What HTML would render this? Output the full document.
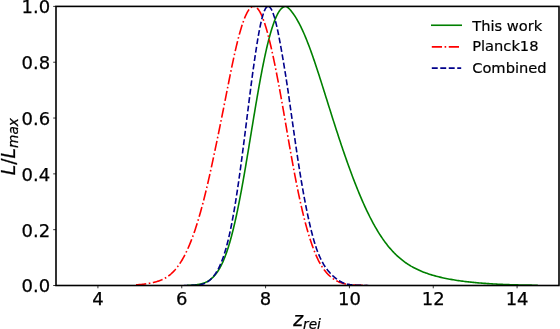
<!DOCTYPE html>
<html><head><meta charset="utf-8"><title>plot</title>
<style>html,body{margin:0;padding:0;background:#fff;overflow:hidden}</style></head>
<body>
<svg width="560" height="329" viewBox="0 0 560 329" style="display:block;font-family:'DejaVu Sans','Liberation Sans',sans-serif">
<rect x="0" y="0" width="560" height="329" fill="#fff"/>
<clipPath id="c"><rect x="56.0" y="6.4" width="503.0" height="279.1"/></clipPath>
<g clip-path="url(#c)" fill="none" stroke-linejoin="round">
<path d="M188.01,285.36 L188.25,285.35 L188.49,285.35 L188.73,285.34 L188.97,285.33 L189.21,285.32 L189.45,285.31 L189.69,285.30 L189.93,285.29 L190.17,285.28 L190.41,285.27 L190.65,285.26 L190.89,285.25 L191.13,285.23 L191.37,285.22 L191.61,285.21 L191.85,285.19 L192.09,285.18 L192.33,285.16 L192.57,285.15 L192.81,285.13 L193.05,285.11 L193.29,285.09 L193.53,285.07 L193.77,285.05 L194.01,285.03 L194.25,285.01 L194.49,284.98 L194.73,284.96 L194.97,284.93 L195.22,284.91 L195.46,284.88 L195.71,284.85 L195.95,284.82 L196.20,284.79 L196.45,284.76 L196.70,284.72 L196.95,284.69 L197.20,284.65 L197.45,284.61 L197.71,284.57 L197.96,284.53 L198.22,284.49 L198.47,284.44 L198.73,284.39 L198.99,284.35 L199.24,284.29 L199.50,284.24 L199.77,284.19 L200.03,284.13 L200.29,284.07 L200.55,284.01 L200.82,283.94 L201.08,283.88 L201.35,283.81 L201.61,283.74 L201.88,283.66 L202.15,283.58 L202.42,283.50 L202.68,283.42 L202.95,283.33 L203.23,283.25 L203.50,283.15 L203.77,283.06 L204.04,282.96 L204.32,282.85 L204.59,282.75 L204.86,282.63 L205.14,282.52 L205.42,282.40 L205.69,282.28 L205.97,282.15 L206.25,282.02 L206.53,281.88 L206.81,281.74 L207.09,281.59 L207.37,281.44 L207.65,281.28 L207.93,281.12 L208.21,280.95 L208.50,280.78 L208.78,280.60 L209.06,280.42 L209.35,280.23 L209.63,280.03 L209.92,279.83 L210.21,279.62 L210.49,279.40 L210.78,279.18 L211.07,278.95 L211.36,278.71 L211.65,278.46 L211.94,278.21 L212.23,277.95 L212.52,277.68 L212.81,277.40 L213.10,277.12 L213.39,276.82 L213.68,276.52 L213.98,276.21 L214.27,275.89 L214.56,275.56 L214.86,275.22 L215.15,274.87 L215.45,274.51 L215.74,274.14 L216.04,273.76 L216.34,273.37 L216.63,272.97 L216.93,272.56 L217.23,272.13 L217.53,271.70 L217.83,271.25 L218.13,270.79 L218.43,270.32 L218.73,269.83 L219.03,269.34 L219.33,268.83 L219.63,268.30 L219.93,267.77 L220.23,267.22 L220.54,266.65 L220.84,266.08 L221.14,265.48 L221.45,264.88 L221.75,264.26 L222.06,263.62 L222.36,262.97 L222.67,262.30 L222.98,261.62 L223.28,260.92 L223.59,260.20 L223.90,259.47 L224.20,258.72 L224.51,257.96 L224.82,257.18 L225.13,256.38 L225.44,255.56 L225.75,254.73 L226.06,253.88 L226.37,253.01 L226.68,252.12 L227.00,251.21 L227.31,250.29 L227.62,249.34 L227.93,248.38 L228.25,247.40 L228.56,246.40 L228.88,245.38 L229.19,244.34 L229.51,243.27 L229.82,242.19 L230.14,241.09 L230.46,239.97 L230.77,238.83 L231.09,237.67 L231.41,236.49 L231.73,235.29 L232.05,234.06 L232.37,232.82 L232.69,231.55 L233.01,230.27 L233.33,228.96 L233.65,227.63 L233.97,226.28 L234.30,224.91 L234.62,223.52 L234.94,222.11 L235.27,220.67 L235.59,219.22 L235.92,217.74 L236.25,216.24 L236.57,214.72 L236.90,213.18 L237.23,211.62 L237.56,210.04 L237.89,208.44 L238.21,206.82 L238.54,205.17 L238.88,203.51 L239.21,201.82 L239.54,200.12 L239.87,198.40 L240.21,196.65 L240.54,194.89 L240.87,193.11 L241.21,191.31 L241.55,189.49 L241.88,187.65 L242.22,185.79 L242.56,183.91 L242.90,182.02 L243.24,180.11 L243.58,178.19 L243.92,176.24 L244.26,174.28 L244.60,172.31 L244.94,170.31 L245.29,168.31 L245.63,166.29 L245.98,164.25 L246.32,162.20 L246.67,160.14 L247.02,158.07 L247.37,155.98 L247.72,153.88 L248.07,151.77 L248.42,149.65 L248.77,147.52 L249.12,145.38 L249.48,143.23 L249.83,141.07 L250.19,138.90 L250.55,136.73 L250.90,134.55 L251.26,132.36 L251.62,130.17 L251.98,127.97 L252.34,125.78 L252.71,123.57 L253.07,121.37 L253.44,119.16 L253.80,116.95 L254.17,114.75 L254.54,112.54 L254.90,110.33 L255.27,108.13 L255.65,105.93 L256.02,103.73 L256.39,101.53 L256.77,99.35 L257.14,97.16 L257.52,94.99 L257.90,92.82 L258.27,90.66 L258.66,88.51 L259.04,86.37 L259.42,84.24 L259.80,82.13 L260.19,80.02 L260.58,77.93 L260.96,75.86 L261.35,73.80 L261.74,71.75 L262.14,69.72 L262.53,67.71 L262.93,65.72 L263.32,63.75 L263.72,61.80 L264.12,59.87 L264.52,57.96 L264.92,56.07 L265.32,54.21 L265.73,52.38 L266.13,50.56 L266.54,48.78 L266.95,47.02 L267.36,45.29 L267.77,43.59 L268.19,41.92 L268.60,40.27 L269.02,38.66 L269.43,37.08 L269.85,35.53 L270.27,34.02 L270.70,32.54 L271.12,31.09 L271.54,29.68 L271.97,28.31 L272.40,26.97 L272.82,25.67 L273.25,24.41 L273.68,23.18 L274.12,22.00 L274.55,20.85 L274.99,19.75 L275.42,18.68 L275.86,17.66 L276.30,16.68 L276.74,15.74 L277.18,14.84 L277.62,13.99 L278.07,13.18 L278.51,12.41 L278.96,11.69 L279.40,11.01 L279.85,10.38 L280.30,9.80 L280.75,9.26 L281.20,8.76 L281.65,8.32 L282.11,7.92 L282.56,7.56 L283.01,7.25 L283.47,6.99 L283.93,6.78 L284.38,6.61 L284.84,6.49 L285.30,6.42 L285.76,6.40 L285.97,6.42 L286.21,6.49 L286.49,6.61 L286.80,6.78 L287.14,6.99 L287.51,7.25 L287.90,7.56 L288.31,7.92 L288.74,8.32 L289.20,8.76 L289.68,9.26 L290.17,9.80 L290.68,10.38 L291.21,11.01 L291.75,11.69 L292.30,12.41 L292.87,13.18 L293.45,13.99 L294.03,14.84 L294.63,15.74 L295.23,16.68 L295.85,17.66 L296.47,18.68 L297.09,19.75 L297.72,20.85 L298.35,22.00 L298.99,23.18 L299.63,24.41 L300.28,25.67 L300.92,26.97 L301.57,28.31 L302.22,29.68 L302.87,31.09 L303.52,32.54 L304.17,34.02 L304.83,35.53 L305.48,37.08 L306.13,38.66 L306.78,40.27 L307.43,41.92 L308.08,43.59 L308.74,45.29 L309.39,47.02 L310.04,48.78 L310.69,50.56 L311.34,52.38 L312.00,54.21 L312.65,56.07 L313.30,57.96 L313.96,59.87 L314.62,61.80 L315.27,63.75 L315.93,65.72 L316.59,67.71 L317.25,69.72 L317.91,71.75 L318.58,73.80 L319.24,75.86 L319.91,77.93 L320.58,80.02 L321.25,82.13 L321.92,84.24 L322.59,86.37 L323.27,88.51 L323.94,90.66 L324.62,92.82 L325.30,94.99 L325.98,97.16 L326.67,99.35 L327.35,101.53 L328.04,103.73 L328.73,105.93 L329.43,108.13 L330.12,110.33 L330.82,112.54 L331.51,114.75 L332.21,116.95 L332.91,119.16 L333.62,121.37 L334.32,123.57 L335.03,125.78 L335.74,127.97 L336.45,130.17 L337.16,132.36 L337.88,134.55 L338.59,136.73 L339.31,138.90 L340.03,141.07 L340.75,143.23 L341.47,145.38 L342.19,147.52 L342.91,149.65 L343.64,151.77 L344.36,153.88 L345.09,155.98 L345.82,158.07 L346.55,160.14 L347.28,162.20 L348.01,164.25 L348.74,166.29 L349.47,168.31 L350.20,170.31 L350.94,172.31 L351.67,174.28 L352.40,176.24 L353.14,178.19 L353.88,180.11 L354.61,182.02 L355.35,183.91 L356.09,185.79 L356.83,187.65 L357.57,189.49 L358.31,191.31 L359.05,193.11 L359.79,194.89 L360.54,196.65 L361.28,198.40 L362.02,200.12 L362.77,201.82 L363.52,203.51 L364.26,205.17 L365.01,206.82 L365.76,208.44 L366.51,210.04 L367.27,211.62 L368.02,213.18 L368.77,214.72 L369.53,216.24 L370.29,217.74 L371.05,219.22 L371.81,220.67 L372.57,222.11 L373.34,223.52 L374.11,224.91 L374.88,226.28 L375.65,227.63 L376.42,228.96 L377.20,230.27 L377.98,231.55 L378.76,232.82 L379.54,234.06 L380.33,235.29 L381.12,236.49 L381.91,237.67 L382.71,238.83 L383.51,239.97 L384.31,241.09 L385.12,242.19 L385.93,243.27 L386.75,244.34 L387.57,245.38 L388.39,246.40 L389.22,247.40 L390.05,248.38 L390.89,249.34 L391.73,250.29 L392.58,251.21 L393.44,252.12 L394.29,253.01 L395.16,253.88 L396.03,254.73 L396.91,255.56 L397.79,256.38 L398.68,257.18 L399.58,257.96 L400.49,258.72 L401.40,259.47 L402.32,260.20 L403.25,260.92 L404.18,261.62 L405.12,262.30 L406.08,262.97 L407.04,263.62 L408.00,264.26 L408.98,264.88 L409.97,265.48 L410.96,266.08 L411.97,266.65 L412.98,267.22 L414.00,267.77 L415.03,268.30 L416.07,268.83 L417.12,269.34 L418.17,269.83 L419.24,270.32 L420.32,270.79 L421.40,271.25 L422.49,271.70 L423.60,272.13 L424.71,272.56 L425.82,272.97 L426.95,273.37 L428.09,273.76 L429.23,274.14 L430.38,274.51 L431.54,274.87 L432.71,275.22 L433.88,275.56 L435.06,275.89 L436.25,276.21 L437.44,276.52 L438.64,276.82 L439.85,277.12 L441.06,277.40 L442.28,277.68 L443.50,277.95 L444.73,278.21 L445.96,278.46 L447.19,278.71 L448.43,278.95 L449.67,279.18 L450.91,279.40 L452.16,279.62 L453.41,279.83 L454.66,280.03 L455.91,280.23 L457.16,280.42 L458.41,280.60 L459.66,280.78 L460.91,280.95 L462.15,281.12 L463.40,281.28 L464.64,281.44 L465.88,281.59 L467.12,281.74 L468.36,281.88 L469.59,282.02 L470.82,282.15 L472.05,282.28 L473.27,282.40 L474.49,282.52 L475.70,282.63 L476.91,282.75 L478.11,282.85 L479.31,282.96 L480.51,283.06 L481.70,283.15 L482.88,283.25 L484.07,283.33 L485.24,283.42 L486.41,283.50 L487.58,283.58 L488.74,283.66 L489.90,283.74 L491.05,283.81 L492.19,283.88 L493.34,283.94 L494.48,284.01 L495.61,284.07 L496.74,284.13 L497.87,284.19 L498.99,284.24 L500.11,284.29 L501.22,284.35 L502.34,284.39 L503.45,284.44 L504.56,284.49 L505.66,284.53 L506.77,284.57 L507.87,284.61 L508.97,284.65 L510.08,284.69 L511.18,284.72 L512.28,284.76 L513.38,284.79 L514.49,284.82 L515.60,284.85 L516.71,284.88 L517.82,284.91 L518.93,284.93 L520.05,284.96 L521.18,284.98 L522.31,285.01 L523.44,285.03 L524.57,285.05 L525.70,285.07 L526.83,285.09 L527.96,285.11 L529.09,285.13 L530.22,285.15 L531.35,285.16 L532.48,285.18 L533.61,285.19 L534.74,285.21 L535.87,285.22 L537.00,285.23" stroke="#008000" stroke-width="1.6" stroke-linecap="square"/>
<path d="M133.55,284.98 L134.13,284.95 L134.72,284.92 L135.31,284.89 L135.90,284.85 L136.49,284.81 L137.08,284.77 L137.66,284.73 L138.25,284.69 L138.84,284.64 L139.43,284.59 L140.02,284.54 L140.61,284.49 L141.19,284.43 L141.78,284.38 L142.37,284.31 L142.96,284.25 L143.55,284.18 L144.14,284.11 L144.72,284.04 L145.31,283.96 L145.90,283.88 L146.49,283.79 L147.08,283.70 L147.67,283.61 L148.25,283.51 L148.84,283.41 L149.43,283.30 L150.02,283.19 L150.61,283.07 L151.19,282.95 L151.78,282.83 L152.37,282.70 L152.96,282.57 L153.55,282.44 L154.14,282.29 L154.72,282.15 L155.31,281.99 L155.90,281.84 L156.49,281.67 L157.08,281.50 L157.67,281.32 L158.25,281.13 L158.84,280.94 L159.43,280.73 L160.02,280.52 L160.61,280.30 L161.20,280.06 L161.78,279.82 L162.37,279.56 L162.96,279.29 L163.55,279.00 L164.14,278.71 L164.73,278.39 L165.31,278.06 L165.90,277.71 L166.49,277.35 L167.08,276.96 L167.67,276.56 L168.26,276.13 L168.84,275.69 L169.43,275.24 L170.02,274.76 L170.61,274.27 L171.20,273.75 L171.79,273.22 L172.37,272.66 L172.96,272.08 L173.55,271.48 L174.14,270.86 L174.73,270.22 L175.32,269.55 L175.90,268.86 L176.49,268.14 L177.08,267.40 L177.67,266.63 L178.26,265.83 L178.85,265.01 L179.43,264.16 L180.02,263.28 L180.61,262.38 L181.20,261.44 L181.79,260.48 L182.38,259.48 L182.96,258.45 L183.55,257.40 L184.14,256.31 L184.73,255.18 L185.32,254.03 L185.90,252.84 L186.49,251.62 L187.08,250.37 L187.67,249.08 L188.26,247.75 L188.85,246.40 L189.43,245.00 L190.02,243.58 L190.61,242.12 L191.20,240.62 L191.79,239.09 L192.38,237.52 L192.96,235.92 L193.55,234.28 L194.14,232.61 L194.73,230.90 L195.32,229.15 L195.91,227.36 L196.49,225.53 L197.08,223.67 L197.67,221.77 L198.26,219.83 L198.85,217.85 L199.44,215.83 L200.02,213.77 L200.61,211.68 L201.20,209.55 L201.79,207.39 L202.38,205.18 L202.97,202.94 L203.55,200.67 L204.14,198.36 L204.73,196.01 L205.32,193.63 L205.91,191.22 L206.50,188.77 L207.08,186.29 L207.67,183.78 L208.26,181.24 L208.85,178.66 L209.44,176.06 L210.03,173.43 L210.61,170.77 L211.20,168.08 L211.79,165.36 L212.38,162.62 L212.97,159.86 L213.56,157.07 L214.14,154.28 L214.73,151.48 L215.32,148.68 L215.91,145.86 L216.50,143.04 L217.09,140.20 L217.67,137.36 L218.26,134.50 L218.85,131.63 L219.44,128.75 L220.03,125.86 L220.61,122.96 L221.20,120.05 L221.79,117.12 L222.38,114.19 L222.97,111.24 L223.56,108.29 L224.14,105.32 L224.73,102.35 L225.32,99.38 L225.91,96.40 L226.50,93.41 L227.09,90.43 L227.67,87.45 L228.26,84.47 L228.85,81.49 L229.44,78.53 L230.03,75.58 L230.62,72.67 L231.20,69.78 L231.79,66.93 L232.38,64.11 L232.97,61.34 L233.56,58.60 L234.15,55.91 L234.73,53.27 L235.32,50.67 L235.91,48.13 L236.50,45.64 L237.09,43.20 L237.68,40.83 L238.26,38.52 L238.85,36.27 L239.44,34.08 L240.03,31.97 L240.62,29.92 L241.21,27.95 L241.79,26.06 L242.38,24.24 L242.97,22.50 L243.56,20.84 L244.15,19.26 L244.74,17.77 L245.32,16.36 L245.91,15.04 L246.50,13.81 L247.09,12.67 L247.68,11.62 L248.27,10.67 L248.85,9.81 L249.44,9.04 L250.03,8.37 L250.62,7.80 L251.21,7.32 L251.79,6.95 L252.38,6.67 L252.97,6.49 L253.56,6.41 L253.56,-0.69 L253.56,6.41 L254.15,6.42 L254.74,6.54 L255.32,6.76 L255.91,7.09 L256.50,7.51 L257.09,8.04 L257.68,8.66 L258.27,9.38 L258.85,10.20 L259.44,11.12 L260.03,12.14 L260.62,13.25 L261.21,14.46 L261.80,15.76 L262.38,17.15 L262.97,18.63 L263.56,20.20 L264.15,21.86 L264.74,23.60 L265.33,25.42 L265.91,27.33 L266.50,29.31 L267.09,31.38 L267.68,33.52 L268.27,35.73 L268.86,38.01 L269.44,40.36 L270.03,42.78 L270.62,45.26 L271.21,47.80 L271.80,50.40 L272.39,53.06 L272.97,55.77 L273.56,58.53 L274.15,61.34 L274.74,64.20 L275.33,67.10 L275.92,70.04 L276.50,73.02 L277.09,76.03 L277.68,79.08 L278.27,82.16 L278.86,85.26 L279.45,88.41 L280.03,91.60 L280.62,94.83 L281.21,98.09 L281.80,101.38 L282.39,104.70 L282.98,108.05 L283.56,111.42 L284.15,114.80 L284.74,118.21 L285.33,121.62 L285.92,125.05 L286.50,128.47 L287.09,131.90 L287.68,135.32 L288.27,138.73 L288.86,142.12 L289.45,145.50 L290.03,148.86 L290.62,152.19 L291.21,155.49 L291.80,158.75 L292.39,161.98 L292.98,165.16 L293.56,168.32 L294.15,171.45 L294.74,174.54 L295.33,177.60 L295.92,180.62 L296.51,183.60 L297.09,186.54 L297.68,189.43 L298.27,192.29 L298.86,195.09 L299.45,197.86 L300.04,200.57 L300.62,203.24 L301.21,205.86 L301.80,208.43 L302.39,210.95 L302.98,213.42 L303.57,215.84 L304.15,218.20 L304.74,220.51 L305.33,222.77 L305.92,224.97 L306.51,227.12 L307.10,229.21 L307.68,231.26 L308.27,233.25 L308.86,235.19 L309.45,237.09 L310.04,238.94 L310.63,240.74 L311.21,242.49 L311.80,244.20 L312.39,245.87 L312.98,247.50 L313.57,249.09 L314.16,250.64 L314.74,252.15 L315.33,253.62 L315.92,255.03 L316.51,256.39 L317.10,257.70 L317.69,258.96 L318.27,260.16 L318.86,261.31 L319.45,262.42 L320.04,263.48 L320.63,264.51 L321.21,265.49 L321.80,266.43 L322.39,267.34 L322.98,268.21 L323.57,269.05 L324.16,269.85 L324.74,270.62 L325.33,271.35 L325.92,272.06 L326.51,272.74 L327.10,273.39 L327.69,274.02 L328.27,274.61 L328.86,275.19 L329.45,275.73 L330.04,276.26 L330.63,276.76 L331.22,277.24 L331.80,277.70 L332.39,278.14 L332.98,278.57 L333.57,278.97 L334.16,279.36 L334.75,279.73 L335.33,280.08 L335.92,280.42 L336.51,280.75 L337.10,281.06 L337.69,281.36 L338.28,281.64 L338.86,281.90 L339.45,282.15 L340.04,282.39 L340.63,282.61 L341.22,282.82 L341.81,283.02 L342.39,283.21 L342.98,283.38 L343.57,283.54 L344.16,283.69 L344.75,283.83 L345.34,283.97 L345.92,284.09 L346.51,284.20 L347.10,284.30 L347.69,284.40 L348.28,284.49 L348.87,284.57 L349.45,284.65 L350.04,284.72 L350.63,284.78 L351.22,284.84 L351.81,284.89 L352.39,284.94 L352.98,284.99 L353.57,285.03 L354.16,285.07 L354.75,285.11 L355.34,285.14 L355.92,285.18 L356.51,285.20 L357.10,285.23 L357.69,285.25 L358.28,285.28 L358.87,285.30 L359.45,285.32 L360.04,285.33 L360.63,285.35 L361.22,285.36 L361.81,285.38 L362.40,285.39 L362.98,285.40 L363.57,285.41 L364.16,285.42 L364.75,285.42 L365.34,285.43 L365.93,285.44 L366.51,285.44 L367.10,285.45 L367.69,285.46 L368.28,285.46" stroke="#ff0000" stroke-width="1.6" stroke-dashoffset="-2.5" stroke-dasharray="10.24 2.56 1.60 2.56"/>
<path d="M183.85,285.48 L184.31,285.48 L184.77,285.48 L185.23,285.48 L185.69,285.47 L186.16,285.47 L186.62,285.46 L187.08,285.46 L187.54,285.46 L188.01,285.45 L188.47,285.44 L188.93,285.44 L189.39,285.43 L189.85,285.42 L190.32,285.41 L190.78,285.40 L191.24,285.39 L191.70,285.38 L192.17,285.36 L192.63,285.34 L193.09,285.33 L193.55,285.31 L194.02,285.29 L194.48,285.26 L194.94,285.24 L195.40,285.21 L195.86,285.18 L196.33,285.14 L196.79,285.10 L197.25,285.06 L197.71,285.01 L198.18,284.96 L198.64,284.90 L199.10,284.84 L199.56,284.77 L200.02,284.69 L200.49,284.61 L200.95,284.52 L201.41,284.41 L201.87,284.30 L202.34,284.18 L202.80,284.05 L203.26,283.90 L203.72,283.74 L204.18,283.57 L204.65,283.39 L205.11,283.19 L205.57,282.97 L206.03,282.74 L206.50,282.49 L206.96,282.22 L207.42,281.94 L207.88,281.63 L208.34,281.31 L208.81,280.96 L209.27,280.60 L209.73,280.21 L210.19,279.80 L210.66,279.37 L211.12,278.92 L211.58,278.44 L212.04,277.95 L212.50,277.43 L212.97,276.89 L213.43,276.32 L213.89,275.74 L214.35,275.13 L214.82,274.50 L215.28,273.85 L215.74,273.18 L216.20,272.49 L216.66,271.76 L217.13,271.00 L217.59,270.21 L218.05,269.38 L218.51,268.51 L218.98,267.60 L219.44,266.66 L219.90,265.67 L220.36,264.65 L220.82,263.58 L221.29,262.46 L221.75,261.31 L222.21,260.10 L222.67,258.85 L223.14,257.56 L223.60,256.21 L224.06,254.81 L224.52,253.36 L224.99,251.86 L225.45,250.31 L225.91,248.71 L226.37,247.04 L226.83,245.33 L227.30,243.55 L227.76,241.72 L228.22,239.84 L228.68,237.89 L229.15,235.89 L229.61,233.82 L230.07,231.70 L230.53,229.52 L230.99,227.28 L231.46,224.97 L231.92,222.61 L232.38,220.18 L232.84,217.70 L233.31,215.15 L233.77,212.54 L234.23,209.88 L234.69,207.15 L235.15,204.37 L235.62,201.53 L236.08,198.63 L236.54,195.68 L237.00,192.66 L237.47,189.60 L237.93,186.48 L238.39,183.31 L238.85,180.09 L239.31,176.82 L239.78,173.51 L240.24,170.15 L240.70,166.75 L241.16,163.30 L241.63,159.82 L242.09,156.30 L242.55,152.75 L243.01,149.18 L243.47,145.58 L243.94,141.96 L244.40,138.32 L244.86,134.66 L245.32,130.99 L245.79,127.31 L246.25,123.62 L246.71,119.92 L247.17,116.22 L247.63,112.52 L248.10,108.82 L248.56,105.14 L249.02,101.46 L249.48,97.80 L249.95,94.15 L250.41,90.53 L250.87,86.93 L251.33,83.36 L251.79,79.83 L252.26,76.37 L252.72,72.96 L253.18,69.60 L253.64,66.30 L254.11,63.05 L254.57,59.84 L255.03,56.69 L255.49,53.59 L255.96,50.54 L256.42,47.56 L256.88,44.63 L257.34,41.77 L257.80,38.98 L258.27,36.28 L258.73,33.67 L259.19,31.17 L259.65,28.77 L260.12,26.47 L260.58,24.29 L261.04,22.22 L261.50,20.26 L261.96,18.43 L262.43,16.72 L262.89,15.13 L263.35,13.66 L263.81,12.33 L264.28,11.13 L264.74,10.06 L265.20,9.13 L265.66,8.33 L266.12,7.67 L266.59,7.14 L267.05,6.76 L267.51,6.51 L267.97,6.41 L267.97,5.41 L267.97,6.41 L268.44,6.43 L268.90,6.58 L269.36,6.85 L269.82,7.24 L270.28,7.74 L270.75,8.37 L271.21,9.11 L271.67,9.96 L272.13,10.93 L272.60,12.01 L273.06,13.20 L273.52,14.49 L273.98,15.89 L274.44,17.39 L274.91,18.99 L275.37,20.68 L275.83,22.47 L276.29,24.35 L276.76,26.32 L277.22,28.37 L277.68,30.50 L278.14,32.71 L278.60,35.00 L279.07,37.36 L279.53,39.79 L279.99,42.27 L280.45,44.79 L280.92,47.35 L281.38,49.95 L281.84,52.57 L282.30,55.23 L282.76,57.92 L283.23,60.63 L283.69,63.37 L284.15,66.15 L284.61,68.95 L285.08,71.78 L285.54,74.65 L286.00,77.56 L286.46,80.51 L286.93,83.51 L287.39,86.56 L287.85,89.67 L288.31,92.84 L288.77,96.04 L289.24,99.27 L289.70,102.51 L290.16,105.77 L290.62,109.04 L291.09,112.32 L291.55,115.60 L292.01,118.88 L292.47,122.16 L292.93,125.44 L293.40,128.71 L293.86,131.97 L294.32,135.21 L294.78,138.44 L295.25,141.65 L295.71,144.83 L296.17,147.99 L296.63,151.11 L297.09,154.21 L297.56,157.27 L298.02,160.30 L298.48,163.30 L298.94,166.26 L299.41,169.19 L299.87,172.08 L300.33,174.93 L300.79,177.74 L301.25,180.51 L301.72,183.24 L302.18,185.94 L302.64,188.59 L303.10,191.20 L303.57,193.77 L304.03,196.30 L304.49,198.79 L304.95,201.24 L305.41,203.65 L305.88,206.01 L306.34,208.34 L306.80,210.62 L307.26,212.86 L307.73,215.06 L308.19,217.22 L308.65,219.34 L309.11,221.42 L309.57,223.46 L310.04,225.46 L310.50,227.42 L310.96,229.33 L311.42,231.20 L311.89,233.03 L312.35,234.80 L312.81,236.54 L313.27,238.22 L313.73,239.86 L314.20,241.45 L314.66,243.00 L315.12,244.49 L315.58,245.94 L316.05,247.33 L316.51,248.66 L316.97,249.95 L317.43,251.18 L317.90,252.37 L318.36,253.52 L318.82,254.62 L319.28,255.70 L319.74,256.74 L320.21,257.75 L320.67,258.74 L321.13,259.70 L321.59,260.63 L322.06,261.53 L322.52,262.40 L322.98,263.23 L323.44,264.04 L323.90,264.81 L324.37,265.56 L324.83,266.28 L325.29,266.97 L325.75,267.64 L326.22,268.29 L326.68,268.92 L327.14,269.53 L327.60,270.12 L328.06,270.69 L328.53,271.25 L328.99,271.79 L329.45,272.32 L329.91,272.83 L330.38,273.32 L330.84,273.81 L331.30,274.28 L331.76,274.74 L332.22,275.19 L332.69,275.63 L333.15,276.06 L333.61,276.47 L334.07,276.88 L334.54,277.28 L335.00,277.67 L335.46,278.05 L335.92,278.42 L336.38,278.78 L336.85,279.14 L337.31,279.48 L337.77,279.81 L338.23,280.13 L338.70,280.45 L339.16,280.74 L339.62,281.03 L340.08,281.31 L340.54,281.57 L341.01,281.82 L341.47,282.06 L341.93,282.29 L342.39,282.51 L342.86,282.71 L343.32,282.90 L343.78,283.08 L344.24,283.26 L344.70,283.42 L345.17,283.57 L345.63,283.71 L346.09,283.84 L346.55,283.96 L347.02,284.08 L347.48,284.18 L347.94,284.28 L348.40,284.37 L348.87,284.46 L349.33,284.53 L349.79,284.61 L350.25,284.67 L350.71,284.73 L351.18,284.79 L351.64,284.84 L352.10,284.89 L352.56,284.94 L353.03,284.98 L353.49,285.03 L353.95,285.06 L354.41,285.10 L354.87,285.13 L355.34,285.16 L355.80,285.19 L356.26,285.21 L356.72,285.24 L357.19,285.26 L357.65,285.28 L358.11,285.30 L358.57,285.31 L359.03,285.33 L359.50,285.34 L359.96,285.36 L360.42,285.37 L360.88,285.38 L361.35,285.39 L361.81,285.40 L362.27,285.41 L362.73,285.42 L363.19,285.43 L363.66,285.43 L364.12,285.44 L364.58,285.44 L365.04,285.45 L365.51,285.45 L365.97,285.46 L366.43,285.46 L366.89,285.47 L367.35,285.47 L367.82,285.47 L368.28,285.47" stroke="#00008b" stroke-width="1.6" stroke-dashoffset="1.5" stroke-dasharray="5.92 2.56"/>
</g>
<path d="M97.92,285.5 v2.8 M181.75,285.5 v2.8 M265.58,285.5 v2.8 M349.42,285.5 v2.8 M433.25,285.5 v2.8 M517.08,285.5 v2.8 M56.0,285.50 h-2.8 M56.0,229.68 h-2.8 M56.0,173.86 h-2.8 M56.0,118.04 h-2.8 M56.0,62.22 h-2.8 M56.0,6.40 h-2.8" stroke="#000" stroke-width="0.8" fill="none"/>
<rect x="56.0" y="6.4" width="503.0" height="279.1" fill="none" stroke="#000" stroke-width="1.6"/>
<g font-size="18px" fill="#000" stroke="#000" stroke-width="0.25">
<text x="97.92" y="305" text-anchor="middle">4</text>
<text x="181.75" y="305" text-anchor="middle">6</text>
<text x="265.58" y="305" text-anchor="middle">8</text>
<text x="349.42" y="305" text-anchor="middle">10</text>
<text x="433.25" y="305" text-anchor="middle">12</text>
<text x="517.08" y="305" text-anchor="middle">14</text>
<text x="50.1" y="292.05" text-anchor="end">0.0</text>
<text x="50.1" y="236.93" text-anchor="end">0.2</text>
<text x="50.1" y="181.11" text-anchor="end">0.4</text>
<text x="50.1" y="125.29" text-anchor="end">0.6</text>
<text x="50.1" y="69.47" text-anchor="end">0.8</text>
<text x="50.1" y="13.25" text-anchor="end">1.0</text>
</g>
<text transform="translate(293.2,325.5)" fill="#000" stroke="#000" stroke-width="0.25"><tspan x="0.00" y="0.00" font-size="18.80px" font-style="italic">z</tspan><tspan x="9.87" y="3.08" font-size="13.69px" font-style="italic">rei</tspan></text>
<text transform="translate(15.2,175.2) rotate(-90)" fill="#000" stroke="#000" stroke-width="0.25"><tspan x="0.00" y="0.00" font-size="18.80px" font-style="italic">L</tspan><tspan x="10.47" y="0.00" font-size="18.80px">/</tspan><tspan x="16.81" y="0.00" font-size="18.80px" font-style="italic">L</tspan><tspan x="27.28" y="3.08" font-size="13.69px" font-style="italic">max</tspan></text>
<g fill="none" stroke-width="1.6">
<path d="M431.8,25.25 H461.2" stroke="#008000" stroke-linecap="square"/>
<path d="M431.8,46.85 H461.2" stroke="#ff0000" stroke-dasharray="10.24 2.56 1.60 2.56"/>
<path d="M431.8,68.1 H461.2" stroke="#00008b" stroke-dasharray="5.92 2.56"/>
</g>
<g font-size="14.65px" fill="#000" stroke="#000" stroke-width="0.2">
<text x="472.2" y="30.70">This work</text>
<text x="472.2" y="51.40">Planck18</text>
<text x="472.2" y="72.50">Combined</text>
</g>
</svg>
</body></html>
